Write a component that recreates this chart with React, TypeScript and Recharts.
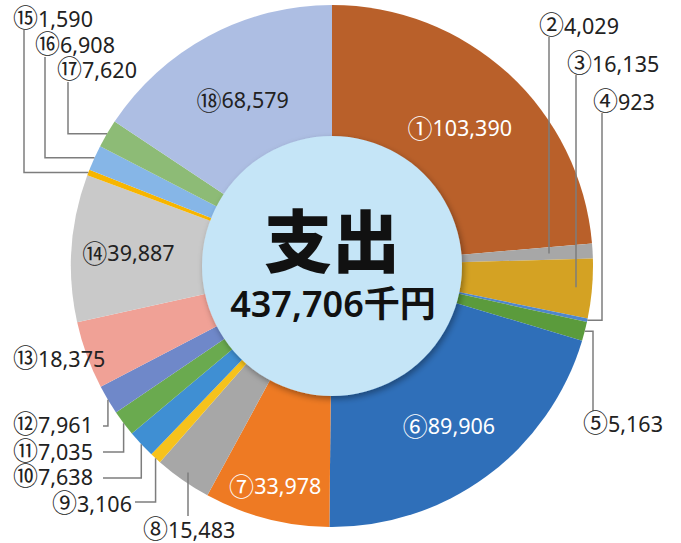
import React from 'react';
import { PieChart, Pie, Cell } from 'recharts';

const categories = ['①', '②', '③', '④', '⑤', '⑥', '⑦', '⑧', '⑨', '⑩', '⑪', '⑫', '⑬', '⑭', '⑮', '⑯', '⑰', '⑱'];
const values = [103390, 4029, 16135, 923, 5163, 89906, 33978, 15483, 3106, 7638, 7035, 7961, 18375, 39887, 1590, 6908, 7620, 68579];
const sliceColors = [
  '#b9602a', '#a7a7a7', '#d4a223', '#4f86cc', '#5b9b3c', '#2f6fb9', '#ee7a23', '#a7a7a7', '#f6c21c',
  '#3f8fd3', '#6aaa4f', '#6f88c9', '#f0a196', '#c9c9c9', '#f7b500', '#86b6e7', '#8dbb76', '#adbee3',
];
const centerTitle = '支出';
const centerTotalLabel = '437,706千円';

const total = values.reduce((a, b) => a + b, 0);
const data = categories.map((c, i) => ({ name: c, value: values[i] }));
const centerData = [{ name: 'total', value: total }];

type LabelLayout =
  | { kind: 'in'; r: number; color: string }
  | { kind: 'none'; tx: number; ty: number }
  | { kind: 'v'; tx: number; ty: number; lx: number; ey: number }
  | { kind: 'hv'; tx: number; ty: number; lx: number; ey: number }
  | { kind: 'vh'; tx: number; ty: number; ly: number; ex: number };

// label placement, offsets relative to pie centre
const CX = 332;
const CY = 266;
const labelLayout: LabelLayout[] = [
  { kind: 'in', r: 189, color: '#ffffff' },
  { kind: 'v', tx: 539 - CX, ty: 34 - CY, lx: 549 - CX, ey: 37 - CY },
  { kind: 'v', tx: 567 - CX, ty: 72 - CY, lx: 576 - CX, ey: 75 - CY },
  { kind: 'hv', tx: 593 - CX, ty: 110 - CY, lx: 602 - CX, ey: 113 - CY },
  { kind: 'hv', tx: 583 - CX, ty: 432 - CY, lx: 593 - CX, ey: 411 - CY },
  { kind: 'in', r: 197, color: '#ffffff' },
  { kind: 'in', r: 226, color: '#ffffff' },
  { kind: 'v', tx: 143 - CX, ty: 538 - CY, lx: 188 - CX, ey: 516 - CY },
  { kind: 'vh', tx: 52 - CX, ty: 512 - CY, ly: 502 - CY, ex: 135 - CX },
  { kind: 'vh', tx: 13 - CX, ty: 485 - CY, ly: 478 - CY, ex: 103 - CX },
  { kind: 'vh', tx: 13 - CX, ty: 460 - CY, ly: 452 - CY, ex: 103 - CX },
  { kind: 'vh', tx: 13 - CX, ty: 433 - CY, ly: 426 - CY, ex: 103 - CX },
  { kind: 'none', tx: 13 - CX, ty: 367 - CY },
  { kind: 'in', r: 204, color: '#222222' },
  { kind: 'hv', tx: 13 - CX, ty: 27 - CY, lx: 24 - CX, ey: 30 - CY },
  { kind: 'hv', tx: 35 - CX, ty: 53 - CY, lx: 45 - CX, ey: 57 - CY },
  { kind: 'hv', tx: 57 - CX, ty: 78 - CY, lx: 68 - CX, ey: 82 - CY },
  { kind: 'in', r: 189, color: '#222222' },
];

const FONT = "'Noto Sans', 'Noto Sans CJK JP', sans-serif";
const CJK = "'Noto Sans CJK JP', sans-serif";
const LABEL_SIZE = 21.5;
const MARK_SIZE = 25;
const LINE_COLOR = '#7d7d7d';

const fmt = (v: number) => v.toLocaleString('en-US');

const LabelText = ({ index }: { index: number }) => (
  <>
    <tspan fontFamily={CJK} fontSize={MARK_SIZE}>{categories[index]}</tspan>
    <tspan fontFamily={FONT} fontSize={LABEL_SIZE} dx={0}>{fmt(values[index])}</tspan>
  </>
);

const renderLabel = (props: any) => {
  const { cx, cy, midAngle, outerRadius, index } = props;
  const layout = labelLayout[index];
  const a = (midAngle * Math.PI) / 180;
  const px = cx + outerRadius * Math.cos(a);
  const py = cy - outerRadius * Math.sin(a);
  if (layout.kind === 'in') {
    const x = cx + layout.r * Math.cos(a);
    const y = cy - layout.r * Math.sin(a);
    return (
      <text key={`l${index}`} x={x} y={y} fill={layout.color} fontFamily={FONT} fontSize={LABEL_SIZE}
        textAnchor="middle" dominantBaseline="central"><LabelText index={index} /></text>
    );
  }
  let points = '';
  if (layout.kind === 'v') {
    const lx = cx + layout.lx;
    const r = (lx - cx) / Math.cos(a);
    const sy = cy - r * Math.sin(a);
    points = `${lx},${sy} ${lx},${cy + layout.ey}`;
  } else if (layout.kind === 'hv') {
    points = `${px},${py} ${cx + layout.lx},${py} ${cx + layout.lx},${cy + layout.ey}`;
  } else if (layout.kind === 'vh') {
    points = `${px},${py} ${px},${cy + layout.ly} ${cx + layout.ex},${cy + layout.ly}`;
  }
  return (
    <g key={`l${index}`}>
      {points && <polyline points={points} fill="none" stroke={LINE_COLOR} strokeWidth={1.5} />}
      <text x={cx + layout.tx} y={cy + layout.ty} fill="#222222" fontFamily={FONT} fontSize={LABEL_SIZE}
        textAnchor="start"><LabelText index={index} /></text>
    </g>
  );
};

const renderCenter = (props: any) => {
  const { cx, cy } = props;
  return (
    <g key="center">
      <defs>
        <filter id="centerShadow" x="-20%" y="-20%" width="140%" height="140%">
          <feDropShadow dx="2" dy="3" stdDeviation="3" floodColor="#000" floodOpacity="0.35" />
        </filter>
      </defs>
      <text x={cx} y={cy - 29} textAnchor="middle" dominantBaseline="central" fontFamily={CJK}
        fontWeight={900} fontSize={68} fill="#111">{centerTitle}</text>
      <text x={cx + 1} y={cy + 37} textAnchor="middle" dominantBaseline="central" fontFamily={FONT}
        fontWeight={600} fontSize={36} fill="#111">{centerTotalLabel}</text>
    </g>
  );
};

export default function App() {
  return (
    <div style={{ position: 'absolute', left: 0, top: 0, width: 681, height: 543, background: '#fff' }}>
      <PieChart width={681} height={543} margin={{ top: 0, right: 0, bottom: 0, left: 0 }}>
        <Pie
          data={data}
          dataKey="value"
          nameKey="name"
          cx={CX}
          cy={CY}
          innerRadius={0}
          outerRadius={261}
          startAngle={90}
          endAngle={-270}
          stroke="none"
          label={renderLabel}
          labelLine={false}
          isAnimationActive={false}
        >
          {data.map((d, i) => (
            <Cell key={d.name} fill={sliceColors[i]} stroke="none" />
          ))}
        </Pie>
        <Pie
          data={centerData}
          dataKey="value"
          cx={CX}
          cy={CY}
          innerRadius={0}
          outerRadius={130}
          startAngle={90}
          endAngle={-270}
          stroke="none"
          label={renderCenter}
          labelLine={false}
          isAnimationActive={false}
        >
          <Cell fill="#c5e5f7" stroke="none" filter="url(#centerShadow)" />
        </Pie>
      </PieChart>
    </div>
  );
}
